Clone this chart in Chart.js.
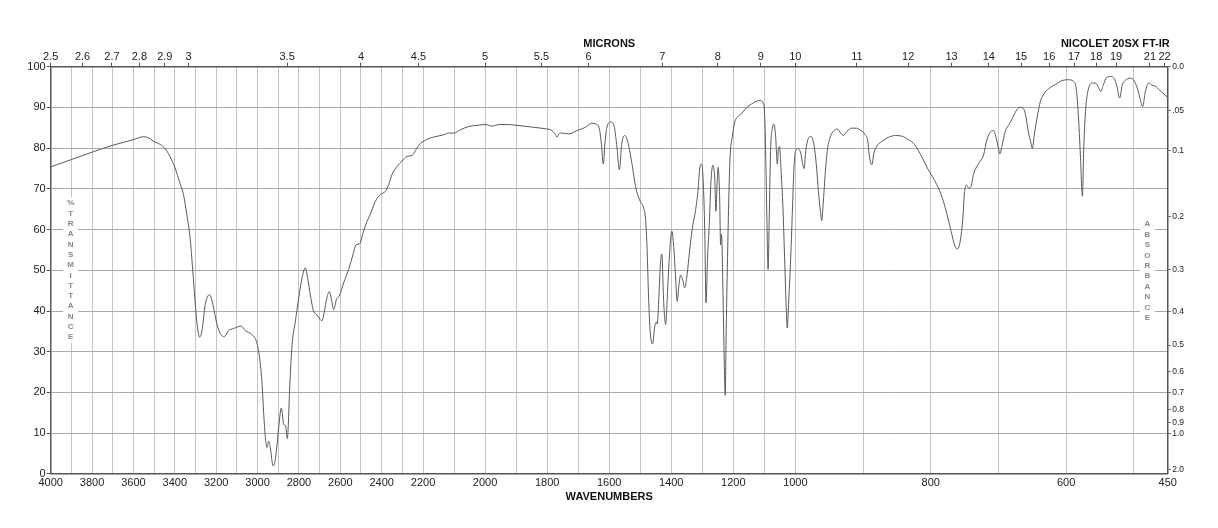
<!DOCTYPE html>
<html>
<head>
<meta charset="utf-8">
<title>IR spectrum</title>
<script src="https://cdn.jsdelivr.net/npm/chart.js@4.4.1/dist/chart.umd.min.js"></script>
<style>
  html, body { margin: 0; padding: 0; background: #fff; }
  #wrap { width: 1218px; height: 528px; }
</style>
</head>
<body>
<div id="wrap"><canvas id="irChart" width="1218" height="528"></canvas></div>
<script>
// spectrum (cm-1, %T)
const wavenumbers = [
  4000, 3950, 3900, 3850, 3800, 3750, 3700, 3650, 3600, 3550, 3526, 3500, 3470, 3447, 3423, 3400,
  3374, 3358, 3342, 3326, 3313, 3301, 3290, 3280, 3269, 3253, 3232, 3216, 3196, 3177, 3161, 3140,
  3116, 3080, 3059, 3027, 3006, 2990, 2978, 2970, 2962, 2954, 2946, 2938, 2925, 2919, 2909, 2898,
  2885, 2873, 2865, 2856, 2844, 2833, 2817, 2801, 2785, 2769, 2758, 2745, 2729, 2713, 2697, 2689,
  2677, 2665, 2653, 2644, 2632, 2619, 2603, 2584, 2560, 2539, 2523, 2506, 2490, 2471, 2452, 2431,
  2406, 2382, 2366, 2350, 2326, 2302, 2277, 2253, 2237, 2216, 2196, 2176, 2155, 2133, 2117, 2101,
  2080, 2053, 2026, 1999, 1977, 1954, 1928, 1900, 1874, 1842, 1810, 1784, 1773, 1768, 1762, 1752,
  1730, 1704, 1677, 1656, 1642, 1631, 1625, 1619, 1614, 1608, 1595, 1584, 1576, 1567, 1560, 1550,
  1542, 1528, 1514, 1502, 1489, 1483, 1478, 1473, 1468, 1460, 1454, 1448, 1445, 1441, 1435, 1430,
  1425, 1418, 1412, 1405, 1398, 1391, 1386, 1381, 1375, 1370, 1362, 1357, 1349, 1341, 1332, 1323,
  1314, 1308, 1302, 1297, 1292, 1288, 1283, 1277, 1272, 1266, 1260, 1256, 1252, 1249, 1244, 1241,
  1238, 1233, 1229, 1226, 1223, 1218, 1214, 1210, 1203, 1196, 1185, 1174, 1158, 1142, 1126, 1113,
  1104, 1099, 1095, 1091, 1088, 1084, 1080, 1074, 1069, 1064, 1058, 1055, 1051, 1046, 1040, 1034,
  1029, 1026, 1022, 1015, 1010, 1004, 999, 997, 992, 990, 987, 985, 981, 977, 973, 969,
  966, 963, 961, 959, 956, 953, 949, 944, 938, 933, 929, 924, 917, 910, 903, 897,
  893, 891, 887, 884, 880, 872, 862, 852, 842, 833, 824, 815, 805, 798, 791, 783,
  776, 770, 765, 761, 757, 753, 750, 747, 744, 741, 737, 732, 727, 722, 717, 711,
  707, 704, 700, 698, 695, 690, 683, 678, 673, 668, 663, 659, 656, 652, 650, 647,
  643, 638, 633, 626, 616, 606, 597, 589, 585, 582, 579, 576, 574, 571, 568, 562,
  557, 553, 549, 545, 540, 534, 529, 525, 521, 517, 513, 505, 500, 495, 491, 487,
  483, 478, 473, 468, 463, 457, 451
];
const transmittance = [
  75.4, 76.3, 77.2, 78.1, 79.0, 79.9, 80.7, 81.4, 82.1, 82.8, 82.5, 81.6, 80.9, 79.9, 77.9, 75.3,
  71.2, 68.6, 63.7, 57.9, 49.8, 41.6, 35.8, 33.6, 35.0, 41.6, 44.0, 41.6, 36.7, 34.2, 33.7, 35.2,
  35.7, 36.3, 35.2, 34.2, 32.6, 28.5, 21.9, 14.6, 8.8, 6.5, 8.0, 6.4, 2.0, 2.3, 5.6, 11.3,
  16.2, 12.1, 11.9, 8.7, 21.9, 31.8, 37.5, 43.2, 48.1, 50.6, 48.1, 44.0, 39.9, 39.1, 37.9, 37.6,
  39.9, 43.2, 44.8, 43.2, 40.3, 42.8, 43.9, 46.9, 50.2, 53.8, 56.3, 56.5, 59.2, 62.0, 64.1, 66.9,
  68.6, 69.4, 71.0, 73.5, 75.5, 76.8, 78.0, 78.2, 79.4, 81.0, 81.8, 82.5, 82.9, 83.3, 83.7, 83.7,
  84.5, 85.3, 85.6, 85.8, 85.4, 85.8, 85.8, 85.6, 85.4, 85.1, 84.8, 84.3, 83.3, 82.7, 83.5, 83.7,
  83.5, 84.3, 85.1, 86.1, 85.9, 84.5, 80.9, 76.1, 80.9, 84.9, 86.4, 85.4, 80.9, 74.7, 80.9, 83.1,
  82.1, 76.8, 70.2, 67.3, 65.3, 62.8, 55.5, 43.2, 35.0, 31.9, 35.8, 37.3, 36.8, 41.6, 51.4, 54.0,
  43.2, 36.7, 44.8, 54.7, 59.6, 54.7, 48.1, 42.4, 46.5, 48.8, 47.3, 45.7, 48.9, 54.7, 60.4, 64.1,
  69.4, 75.1, 76.1, 71.8, 59.6, 42.0, 53.0, 62.0, 71.8, 75.8, 72.7, 64.5, 71.8, 75.3, 67.8, 56.3,
  58.8, 43.2, 26.8, 19.3, 35.0, 55.5, 69.4, 78.4, 82.9, 86.2, 87.8, 88.4, 89.9, 90.8, 91.5, 91.7,
  91.1, 88.2, 75.9, 59.6, 50.2, 63.7, 79.2, 84.9, 85.9, 83.3, 76.1, 79.6, 80.4, 74.3, 65.3, 51.4,
  39.9, 35.8, 41.6, 53.0, 63.7, 75.9, 79.6, 79.9, 78.8, 76.8, 75.0, 78.8, 82.3, 82.9, 81.3, 75.9,
  69.4, 64.5, 62.2, 66.1, 73.5, 79.2, 82.5, 84.1, 84.7, 83.7, 83.1, 84.1, 84.9, 84.9, 84.3, 83.3,
  81.7, 78.4, 75.9, 78.8, 80.4, 81.7, 82.7, 83.1, 82.9, 82.1, 80.9, 78.4, 75.1, 73.1, 71.0, 67.8,
  63.7, 59.6, 56.3, 55.2, 56.7, 62.0, 69.4, 70.9, 70.2, 70.4, 73.5, 75.5, 76.8, 78.3, 82.1, 84.1,
  84.3, 82.9, 80.0, 78.6, 80.4, 84.1, 86.2, 87.8, 89.4, 90.0, 89.7, 87.4, 84.1, 81.3, 79.9, 83.3,
  87.4, 91.5, 93.3, 94.6, 95.6, 96.6, 96.8, 96.4, 94.4, 88.2, 78.4, 68.2, 80.0, 89.9, 93.9, 96.0,
  96.0, 95.2, 93.9, 95.6, 97.4, 97.6, 97.1, 95.2, 92.3, 95.6, 96.6, 97.2, 96.6, 94.8, 92.3, 90.2,
  93.9, 96.0, 95.4, 95.2, 94.4, 93.5, 92.6
];

// axis labels
const wavenumberLabels = [4000, 3800, 3600, 3400, 3200, 3000, 2800, 2600, 2400, 2200,
  2000, 1800, 1600, 1400, 1200, 1000, 800, 600, 450];
const micronLabels = [2.5, 2.6, 2.7, 2.8, 2.9, 3, 3.5, 4, 4.5, 5, 5.5, 6, 7, 8, 9, 10,
  11, 12, 13, 14, 15, 16, 17, 18, 19, 21, 22];
const absorbanceValues = [0, 0.05, 0.1, 0.2, 0.3, 0.4, 0.5, 0.6, 0.7, 0.8, 0.9, 1.0, 2.0];
const absorbanceLabels = ["0.0", ".05", "0.1", "0.2", "0.3", "0.4", "0.5", "0.6", "0.7", "0.8", "0.9", "1.0", "2.0"];

// grid every 100 cm-1, plus the 450 edge
const gridWavenumbers = [];
for (let w = 4000; w >= 500; w -= 100) gridWavenumbers.push(w);
gridWavenumbers.push(450);

// the chart paper has three equal-width sections: 4000-2200, 2200-1000, 1000-450
const sectionBreaks = [4000, 2200, 1000, 450];

function wnToDecimal(v) {
  for (let i = 0; i < 3; i++) {
    const a = sectionBreaks[i], b = sectionBreaks[i + 1];
    if (v >= b || i === 2) return (i + (a - v) / (a - b)) / 3;
  }
}

function decimalToWn(d) {
  const t = d * 3;
  const i = Math.max(0, Math.min(2, Math.floor(t)));
  const a = sectionBreaks[i], b = sectionBreaks[i + 1];
  return a - (t - i) * (a - b);
}

class WavenumberScale extends Chart.LinearScale {
  getPixelForValue(value) {
    return this.getPixelForDecimal(wnToDecimal(value));
  }
  getValueForPixel(pixel) {
    return decimalToWn(this.getDecimalForPixel(pixel));
  }
}
WavenumberScale.id = "wavenumber";
WavenumberScale.defaults = Chart.LinearScale.defaults;
Chart.register(WavenumberScale);

Chart.defaults.font.family = "'Liberation Sans', Arial, sans-serif";
Chart.defaults.color = "#222";

const AXIS = "#555";

// stacked vertical captions and the instrument name
const paperText = {
  id: "paperText",
  beforeDatasetsDraw(chart) {
    const { ctx, chartArea } = chart;
    const stack = (text, cx, y0, step) => {
      ctx.save();
      ctx.fillStyle = "#fff";
      ctx.fillRect(cx - 7.5, y0 - 6, 15, step * (text.length - 1) + 12);
      ctx.fillStyle = "#888";
      ctx.font = "bold 8px 'Liberation Sans', Arial, sans-serif";
      ctx.textAlign = "center";
      ctx.textBaseline = "middle";
      [...text].forEach((ch, i) => ctx.fillText(ch, cx, y0 + i * step));
      ctx.restore();
    };
    stack("%TRANSMITTANCE", chartArea.left + 20, chartArea.top + 136.5, 10.3);
    stack("ABSORBANCE", chartArea.right - 20.4, chartArea.top + 157.5, 10.4);
  },
  afterDraw(chart) {
    const { ctx, chartArea } = chart;
    ctx.save();
    ctx.fillStyle = "#111";
    ctx.font = "bold 11px 'Liberation Sans', Arial, sans-serif";
    ctx.textAlign = "right";
    ctx.textBaseline = "middle";
    ctx.fillText("NICOLET 20SX FT-IR", chartArea.right + 2, 44);
    ctx.restore();
  },
};

const ctx = document.getElementById("irChart").getContext("2d");

new Chart(ctx, {
  type: "line",
  data: {
    datasets: [
      {
        label: "%T",
        data: wavenumbers.map((w, i) => ({ x: w, y: transmittance[i] })),
        borderColor: "#5a5a5a",
        borderWidth: 1,
        pointRadius: 0,
        fill: false,
        cubicInterpolationMode: "monotone",
        xAxisID: "x",
        yAxisID: "y",
      },
    ],
  },
  options: {
    responsive: false,
    animation: false,
    devicePixelRatio: 1,
    layout: { padding: 0 },
    plugins: {
      legend: { display: false },
      tooltip: { enabled: false },
    },
    scales: {
      x: {
        type: "wavenumber",
        position: "bottom",
        min: 450,
        max: 4000,
        afterBuildTicks: (scale) => {
          scale.ticks = gridWavenumbers.map((v) => ({ value: v }));
        },
        afterFit: (scale) => { scale.height = 54.1; },
        ticks: {
          autoSkip: false,
          maxRotation: 0,
          minRotation: 0,
          padding: 4,
          font: { size: 11, lineHeight: 1 },
          callback: (v) => (wavenumberLabels.includes(v) ? String(v) : ""),
        },
        grid: { color: "#c4c4c4", lineWidth: 1, drawTicks: false },
        border: { color: AXIS, width: 1.5 },
        title: {
          display: true,
          text: "WAVENUMBERS",
          font: { size: 11, weight: "bold" },
          color: "#111",
          padding: { top: 0, bottom: 24.7 },
        },
      },
      xTop: {
        type: "wavenumber",
        position: "top",
        min: 450,
        max: 4000,
        afterBuildTicks: (scale) => {
          scale.ticks = micronLabels.map((m) => ({ value: 10000 / m }));
        },
        afterFit: (scale) => { scale.height = 66.7; },
        ticks: {
          autoSkip: false,
          maxRotation: 0,
          minRotation: 0,
          padding: 0,
          font: { size: 11, lineHeight: 1 },
          callback: (v, i) => String(micronLabels[i]),
        },
        grid: { drawOnChartArea: false, drawTicks: true, tickLength: 4, color: AXIS },
        border: { color: AXIS, width: 1.5 },
        title: {
          display: true,
          text: "MICRONS",
          font: { size: 11, weight: "bold" },
          color: "#111",
          padding: { top: 37.4, bottom: 0 },
        },
      },
      y: {
        position: "left",
        min: 0,
        max: 100,
        afterFit: (scale) => { scale.width = 50.7; },
        ticks: { stepSize: 10, padding: 1, font: { size: 11 } },
        grid: { color: "#a9a9a9", tickColor: AXIS, tickLength: 4, lineWidth: 1 },
        border: { color: AXIS, width: 1.5 },
      },
      yA: {
        position: "right",
        min: 0,
        max: 100,
        afterBuildTicks: (scale) => {
          scale.ticks = absorbanceValues.map((a) => ({ value: 100 * Math.pow(10, -a) }));
        },
        afterFit: (scale) => { scale.width = 50.3; },
        ticks: {
          autoSkip: false,
          padding: 1.5,
          font: { size: 8.5 },
          callback: (v, i) => absorbanceLabels[i],
        },
        grid: { drawOnChartArea: false, drawTicks: true, tickLength: 3, color: AXIS },
        border: { color: AXIS, width: 1.5 },
      },
    },
  },
  plugins: [paperText],
});
</script>
</body>
</html>
